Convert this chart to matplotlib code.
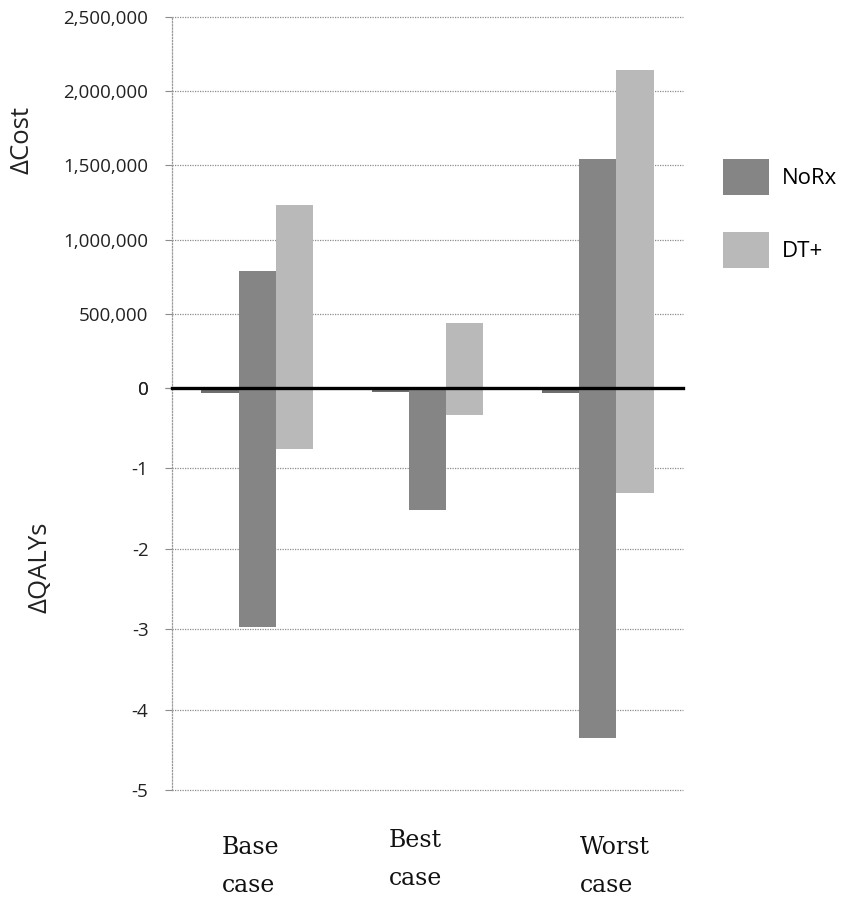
import numpy as np
import matplotlib
matplotlib.use("Agg")
import matplotlib.pyplot as plt
from matplotlib.ticker import FuncFormatter
from matplotlib.transforms import blended_transform_factory

# ----- Data -----
scenarios = ["Base\ncase", "Best\ncase", "Worst\ncase"]
series = ["NoRx", "DT+"]
cost_norx = [790000, 0, 1540000]
cost_dtplus = [1230000, 440000, 2140000]
qaly_norx = [-2.97, -1.52, -4.35]
qaly_dtplus = [-0.76, -0.34, -1.31]
qaly_ref = [-0.06, -0.05, -0.06]   # tiny unlabelled bars left of NoRx

cost_ticks = [0, 500000, 1000000, 1500000, 2000000, 2500000]
qaly_ticks = [0, -1, -2, -3, -4, -5]

# ----- Style -----
plt.rcParams["axes.unicode_minus"] = False
c_norx = "#858585"
c_dt = "#b9b9b9"
c_ref = "#6f6f6f"
grid_kw = dict(color="#8c8c8c", linestyle=(0, (1, 1)), linewidth=0.9)
sans = "Open Sans"

fig = plt.figure(figsize=(8.46, 8.97), dpi=100)
W, H = 846, 897
left, right = 172 / W, 683 / W
y_top, y_zero, y_bot = 1 - 17 / H, 1 - 388 / H, 1 - 790 / H

ax_c = fig.add_axes([left, y_zero, right - left, y_top - y_zero])
ax_q = fig.add_axes([left, y_bot, right - left, y_zero - y_bot], sharex=ax_c)

x = np.arange(len(scenarios))
w = 0.218

# Cost panel
ax_c.bar(x, cost_norx, w, color=c_norx, zorder=3)
ax_c.bar(x + w, cost_dtplus, w, color=c_dt, zorder=3)
ax_c.set_ylim(0, 2500000)
ax_c.set_yticks(cost_ticks)
ax_c.yaxis.set_major_formatter(FuncFormatter(lambda v, p: f"{int(v):,}"))

# QALY panel
ax_q.bar(x - w, qaly_ref, w, color=c_ref, zorder=3)
b1 = ax_q.bar(x, qaly_norx, w, color=c_norx, zorder=3, label=series[0])
b2 = ax_q.bar(x + w, qaly_dtplus, w, color=c_dt, zorder=3, label=series[1])
ax_q.set_ylim(-5, 0)
ax_q.set_yticks(qaly_ticks)
ax_q.set_xlim(-0.5, len(scenarios) - 0.5)

for ax in (ax_c, ax_q):
    ax.yaxis.grid(True, **grid_kw)
    ax.set_axisbelow(True)
    for s in ("top", "right", "bottom"):
        ax.spines[s].set_visible(False)
    ax.spines["left"].set_color("#9a9a9a")
    ax.spines["left"].set_linestyle((0, (1, 1.5)))
    ax.spines["left"].set_linewidth(0.9)
    ax.tick_params(axis="y", length=5, width=0.8, color="#8c8c8c",
                   pad=12, labelsize=13.5, labelcolor="#222222")
    ax.tick_params(axis="x", length=0, labelbottom=False)
    for lab in ax.get_yticklabels():
        lab.set_fontfamily(sans)
    for gl in ax.get_ygridlines():
        gl.set_clip_on(False)

# thick zero line between the panels
ax_q.axhline(0, color="black", linewidth=2.4, zorder=5, clip_on=False)

# axis titles
fig.text(22 / W, 1 - 140 / H, "ΔCost", rotation=90, ha="center", va="center",
         fontsize=18.5, family=sans, color="#222222")
fig.text(40 / W, 1 - 567 / H, "ΔQALYs", rotation=90, ha="center", va="center",
         fontsize=18.5, family=sans, color="#222222")

# scenario labels under the chart
label_dx = [-0.04, -0.07, 0.1]
label_top = [836, 829, 836]
tr = blended_transform_factory(ax_q.transData, fig.transFigure)
for i, name in enumerate(scenarios):
    ax_q.text(x[i] + label_dx[i], 1 - label_top[i] / H, name, transform=tr,
              ha="center", va="top", fontsize=17, family="DejaVu Serif",
              linespacing=1.85, color="#111111", multialignment="left")

# legend at the right
fig.legend(handles=[b1, b2], labels=series, loc="upper left",
           bbox_to_anchor=(723 / W, 1 - 159 / H), frameon=False,
           prop={"family": sans, "size": 16}, handlelength=2.06, handleheight=2.1,
           labelspacing=1.69, handletextpad=0.6, borderpad=0, borderaxespad=0)

fig.savefig("out.png", dpi=100)
